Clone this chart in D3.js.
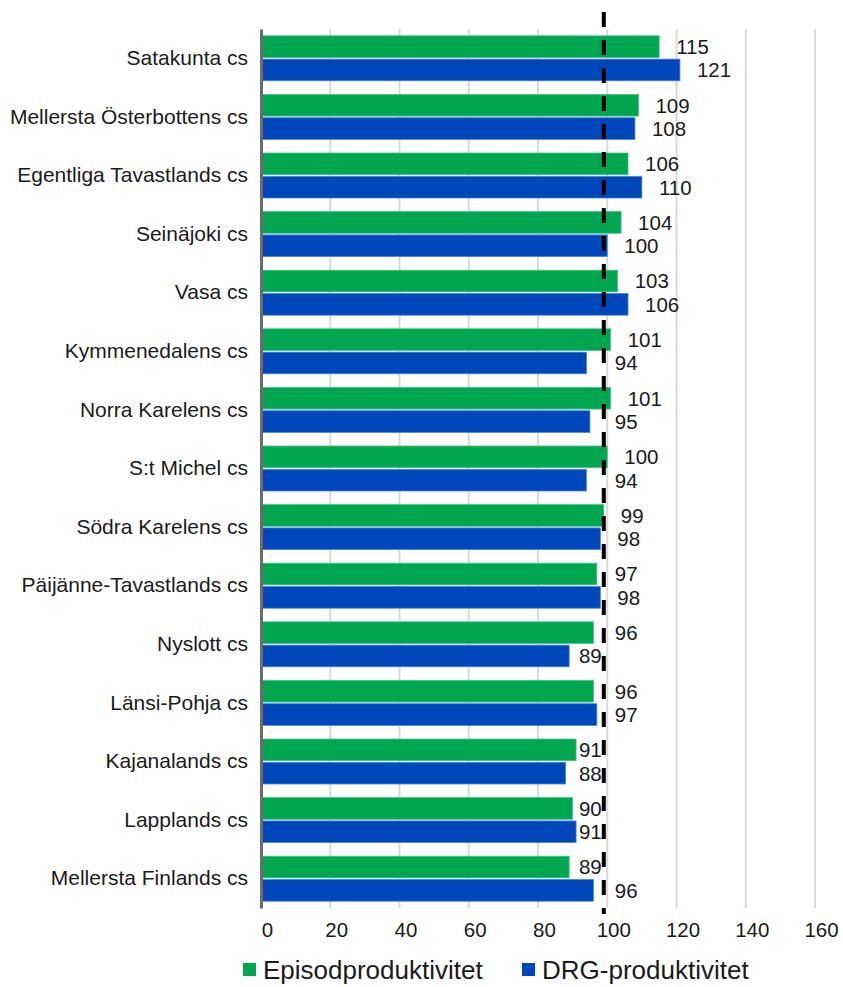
<!DOCTYPE html>
<html>
<head>
<meta charset="utf-8">
<script src="https://cdn.jsdelivr.net/npm/d3@7"></script>
<style>
  body { margin: 0; background: #fff; }
  svg { display: block; font-family: "Liberation Sans", Arial, sans-serif; }
</style>
</head>
<body>
<svg id="chart" width="843" height="987"></svg>
<script>
const categories = [
  "Satakunta cs", "Mellersta Österbottens cs", "Egentliga Tavastlands cs",
  "Seinäjoki cs", "Vasa cs", "Kymmenedalens cs", "Norra Karelens cs",
  "S:t Michel cs", "Södra Karelens cs", "Päijänne-Tavastlands cs",
  "Nyslott cs", "Länsi-Pohja cs", "Kajanalands cs", "Lapplands cs",
  "Mellersta Finlands cs"
];
const episod = [115, 109, 106, 104, 103, 101, 101, 100, 99, 97, 96, 96, 91, 90, 89];
const drg    = [121, 108, 110, 100, 106, 94, 95, 94, 98, 98, 89, 97, 88, 91, 96];
const xTicks = [0, 20, 40, 60, 80, 100, 120, 140, 160];
const seriesNames = ["Episodproduktivitet", "DRG-produktivitet"];
const seriesColors = ["#00A650", "#0047BB"];
const referenceValue = 99;

const svg = d3.select("#chart");
const plotTop = 29, plotBottom = 908, plotLeft = 261, plotRight = 815;

const x = d3.scaleLinear().domain([0, 160]).range([plotLeft, plotRight]);
const y = d3.scaleBand().domain(categories).range([plotTop, plotBottom])
  .paddingInner(0.232).paddingOuter(0.116);
const keys = ["e", "d"];
const y1 = d3.scaleBand().domain(keys).range([0, y.bandwidth()]).paddingInner(0.07);
const color = d3.scaleOrdinal().domain(keys).range(seriesColors);

const rows = categories.map((c, i) => ({ cat: c, e: episod[i], d: drg[i] }));

// gridlines
svg.append("g").selectAll("line")
  .data(xTicks.filter(t => t > 0))
  .join("line")
  .attr("x1", d => x(d)).attr("x2", d => x(d))
  .attr("y1", plotTop).attr("y2", plotBottom)
  .attr("stroke", "#d9d9d9").attr("stroke-width", 2);

// bars
const groups = svg.append("g").selectAll("g")
  .data(rows).join("g")
  .attr("transform", d => `translate(0,${y(d.cat)})`);

groups.selectAll("rect")
  .data(d => keys.map(k => ({ key: k, value: d[k] })))
  .join("rect")
  .attr("x", x(0))
  .attr("y", d => y1(d.key))
  .attr("width", d => x(d.value) - x(0))
  .attr("height", y1.bandwidth())
  .attr("fill", d => color(d.key))
  .attr("stroke", d => d.key === "e" ? "#4cc489" : "#4d86d8")
  .attr("stroke-width", 0.8);

// y axis
const yAxis = svg.append("g")
  .attr("transform", `translate(${plotLeft},0)`)
  .call(d3.axisLeft(y).tickSize(0).tickSizeOuter(0).tickPadding(13));
yAxis.select(".domain").attr("stroke", "#6b6b6b").attr("stroke-width", 3);
yAxis.selectAll("text").attr("font-size", 21).attr("fill", "#1a1a1a")
  .attr("font-family", "Liberation Sans, Arial, sans-serif");

// x axis labels
const xAxis = svg.append("g")
  .attr("transform", `translate(6,${plotBottom})`)
  .call(d3.axisBottom(x).tickValues(xTicks).tickSize(0).tickPadding(14).tickFormat(d3.format("d")));
xAxis.select(".domain").remove();
xAxis.selectAll("text").attr("font-size", 20.5).attr("fill", "#1a1a1a")
  .attr("font-family", "Liberation Sans, Arial, sans-serif");

// dashed reference line
const refX = x(referenceValue);
svg.append("line")
  .attr("x1", refX).attr("x2", refX)
  .attr("y1", 12).attr("y2", 914)
  .attr("stroke", "#000").attr("stroke-width", 4)
  .attr("stroke-dasharray", "15,13");

// value labels
groups.each(function(d) {
  const g = d3.select(this);
  keys.forEach(k => {
    const v = d[k];
    const t = g.append("text")
      .attr("y", y1(k) + y1.bandwidth() / 2)
      .attr("dy", "0.36em")
      .attr("font-size", 20.5)
      .attr("fill", "#1a1a1a")
      .text(v);
    const w = t.node().getComputedTextLength();
    const end = x(v);
    if (end + 1 + w <= refX - 1) {
      t.attr("x", refX - 2).attr("text-anchor", "end");
    } else {
      t.attr("x", Math.max(end + 17, refX + 11)).attr("text-anchor", "start");
    }
  });
});

// legend
const legend = svg.append("g").attr("transform", "translate(0,970)");
const legendX = [243, 522];
seriesNames.forEach((name, i) => {
  const lg = legend.append("g").attr("transform", `translate(${legendX[i]},0)`);
  lg.append("rect").attr("x", 0).attr("y", -7).attr("width", 13).attr("height", 13)
    .attr("fill", seriesColors[i]);
  lg.append("text").attr("x", 20).attr("y", 0).attr("dy", "0.36em")
    .attr("font-size", 26).attr("fill", "#1a1a1a").text(name);
});
</script>
</body>
</html>
